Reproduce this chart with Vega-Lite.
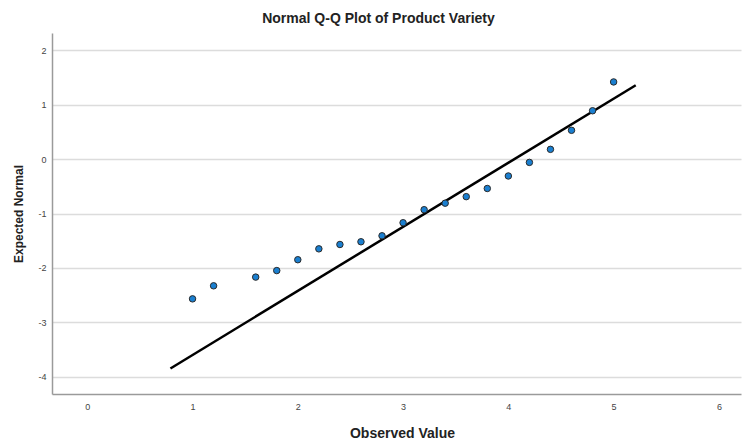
{
  "$schema": "https://vega.github.io/schema/vega-lite/v6.json",
  "width": 689,
  "height": 361,
  "autosize": {"type": "none"},
  "padding": {"left": 52, "top": 33, "right": 2, "bottom": 47},
  "background": "white",
  "config": {
    "view": {"stroke": null},
    "font": "Liberation Sans"
  },
  "title": {
    "text": "Normal Q-Q Plot of Product Variety",
    "fontSize": 14,
    "fontWeight": "bold",
    "color": "#222",
    "anchor": "middle",
    "frame": "group",
    "offset": 7,
    "dx": -18
  },
  "datasets": {
    "points": [
      {"observed": 1.0, "expected": -2.57},
      {"observed": 1.2, "expected": -2.33},
      {"observed": 1.6, "expected": -2.17},
      {"observed": 1.8, "expected": -2.05},
      {"observed": 2.0, "expected": -1.85},
      {"observed": 2.2, "expected": -1.65},
      {"observed": 2.4, "expected": -1.57},
      {"observed": 2.6, "expected": -1.52},
      {"observed": 2.8, "expected": -1.41},
      {"observed": 3.0, "expected": -1.17},
      {"observed": 3.2, "expected": -0.93},
      {"observed": 3.4, "expected": -0.81},
      {"observed": 3.6, "expected": -0.69},
      {"observed": 3.8, "expected": -0.54},
      {"observed": 4.0, "expected": -0.31},
      {"observed": 4.2, "expected": -0.06},
      {"observed": 4.4, "expected": 0.18},
      {"observed": 4.6, "expected": 0.53},
      {"observed": 4.8, "expected": 0.89},
      {"observed": 5.0, "expected": 1.42}
    ],
    "fit": [
      {"observed": 0.79, "expected": -3.85},
      {"observed": 5.21, "expected": 1.36}
    ]
  },
  "layer": [
    {
      "data": {"name": "fit"},
      "mark": {"type": "line", "color": "black", "strokeWidth": 2.5},
      "encoding": {
        "x": {
          "field": "observed", "type": "quantitative",
          "scale": {"domain": [-0.335, 6.21], "nice": false, "zero": false},
          "axis": {
            "title": "Observed Value",
            "values": [0, 1, 2, 3, 4, 5, 6],
            "labelExpr": "toString(datum.value)",
            "grid": false,
            "ticks": false,
            "domainColor": "#9a9a9a",
            "domainWidth": 1.5,
            "labelFontSize": 9,
            "labelColor": "#444",
            "labelPadding": 8,
            "titleFontSize": 14,
            "titleFontWeight": "bold",
            "titleColor": "#222",
            "titlePadding": 15,
            "titleX": 350
          }
        },
        "y": {
          "field": "expected", "type": "quantitative",
          "scale": {"domain": [-4.32, 2.32], "nice": false, "zero": false},
          "axis": {
            "title": "Expected Normal",
            "values": [-4, -3, -2, -1, 0, 1, 2],
            "labelExpr": "toString(datum.value)",
            "grid": true,
            "gridColor": "#dcdcdc",
            "gridWidth": 1.5,
            "ticks": false,
            "domainColor": "#9a9a9a",
            "domainWidth": 1.5,
            "labelFontSize": 9,
            "labelColor": "#444",
            "labelPadding": 6,
            "titleFontSize": 12,
            "titleFontWeight": "bold",
            "titleColor": "#222",
            "titlePadding": 12
          }
        }
      }
    },
    {
      "data": {"name": "points"},
      "mark": {"type": "circle", "size": 42, "color": "#1a7fd0", "opacity": 1, "stroke": "#2b2b2b", "strokeWidth": 1},
      "encoding": {
        "x": {"field": "observed", "type": "quantitative"},
        "y": {"field": "expected", "type": "quantitative"}
      }
    }
  ]
}
